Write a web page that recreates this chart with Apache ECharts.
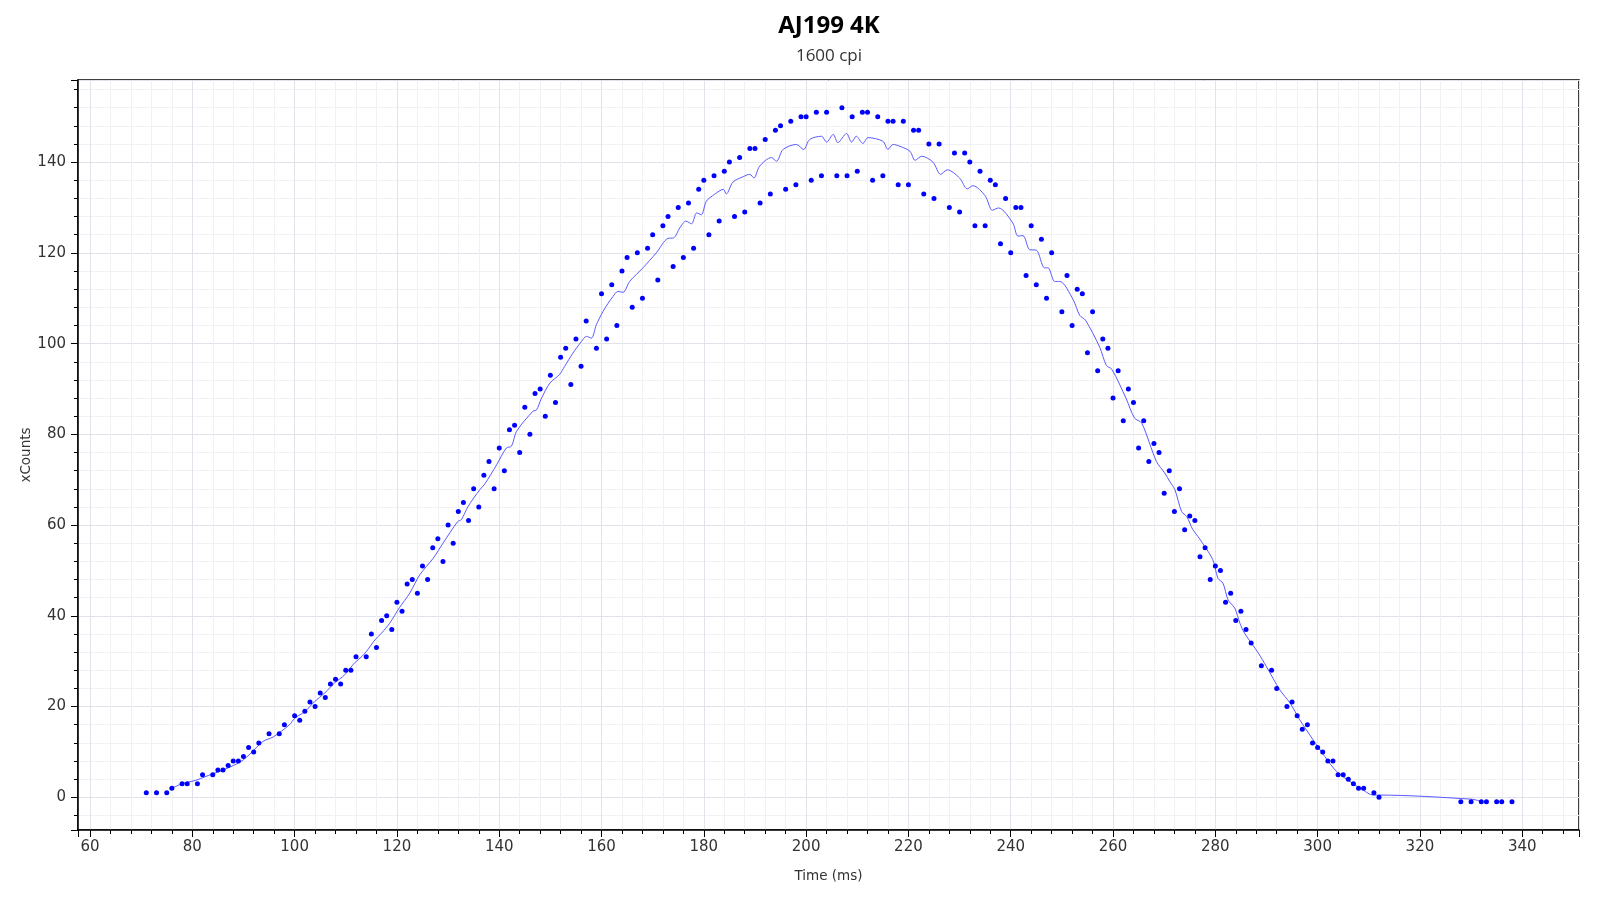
<!DOCTYPE html>
<html>
<head>
<meta charset="utf-8">
<script src="https://cdn.jsdelivr.net/npm/echarts@6/dist/echarts.min.js"></script>
<style>
html,body{margin:0;padding:0;background:#fff;}
#chart{width:1600px;height:900px;}
</style>
</head>
<body>
<div id="chart"></div>
<script>
// Scatter samples: time (ms) and xCounts
const pointTimes = [71,73,75,76,78,79,81,82,84,85,86,87,88,89,90,91,92,93,95,97,98,100,101,102,103,104,105,106,107,108,109,110,111,112,114,115,116,117,118,119,120,121,122,123,124,125,126,127,128,129,130,131,132,133,134,135,136,137,138,139,140,141,142,143,144,145,146,147,148,149,150,151,152,153,154,155,156,157,159,160,161,162,163,164,165,166,167,168,169,170,171,172,173,174,175,176,177,178,179,180,181,182,183,184,185,186,187,188,189,190,191,192,193,194,195,196,197,198,199,200,201,202,203,204,206,207,208,209,210,211,212,213,214,215,216,217,218,219,220,221,222,223,224,225,226,228,229,230,231,232,233,234,235,236,237,238,239,240,241,242,243,244,245,246,247,248,250,251,252,253,254,255,256,257,258,259,260,261,262,263,264,265,266,267,268,269,270,271,272,273,274,275,276,277,278,279,280,281,282,283,284,285,286,287,289,291,292,294,295,296,297,298,299,300,301,302,303,304,305,306,307,308,309,311,312,328,330,332,333,335,336,338];
const pointCounts = [1,1,1,2,3,3,3,5,5,6,6,7,8,8,9,11,10,12,14,14,16,18,17,19,21,20,23,22,25,26,25,28,28,31,31,36,33,39,40,37,43,41,47,48,45,51,48,55,57,52,60,56,63,65,61,68,64,71,74,68,77,72,81,82,76,86,80,89,90,84,93,87,97,99,91,101,95,105,99,111,101,113,104,116,119,108,120,110,121,124,114,126,128,117,130,119,131,121,134,136,124,137,127,138,140,128,141,129,143,143,131,145,133,147,148,134,149,135,150,150,136,151,137,151,137,152,137,150,138,151,151,136,150,137,149,149,135,149,135,147,147,133,144,132,144,130,142,129,142,140,126,138,126,136,135,122,132,120,130,130,115,126,113,123,110,120,107,115,104,112,111,98,107,94,101,99,88,94,83,90,87,77,83,74,78,76,67,72,63,68,59,62,61,53,55,48,51,50,43,45,39,41,37,34,29,28,24,20,21,18,15,16,12,11,10,8,8,5,5,4,3,2,2,1,0,-1,-1,-1,-1,-1,-1,-1];

// Smoothed trace
const lineTimes = [76,78,80.8,84,86,89.9,93.8,95.8,99,100,102,103.9,105.9,107.8,109.8,111.7,113.1,114,115.7,117,118.6,120.5,122.5,124.5,127.1,129,131.9,132.6,133.9,136.2,137.2,139.5,141.4,142.4,143.4,146.6,147.3,148.2,149.9,151.8,152.8,154.4,156.1,157.05,158,159,160.3,161.3,162.25,163.2,164.2,165.5,168.1,170.7,173,174.1,175.3,176.5,177.6,178.6,179.5,180.5,182.1,183.8,184.4,185.7,187.7,189,189.8,190.9,193.2,194.2,195.5,198.1,199.5,200.7,203,204,205.3,206.2,207.9,208.9,209.8,211.1,212.1,215,216,217,218.3,220.3,221.3,222.6,224.8,226.3,227.6,230,231.5,232.6,235,236.4,237.6,240.4,241.4,242.4,243.7,245,246.6,247.3,248.6,249.6,252.2,253.5,254.6,257.4,258.7,259.8,262.6,264.2,265.6,268.5,270.1,271.1,272.1,273.4,274.4,275.6,276.6,279.5,280.5,281.5,282.5,283.8,284.8,285.7,288.4,290,292.6,294.6,296.5,299.1,301.4,303.7,306.3,308.9,310.8,312.1,330,332];
const lineCounts = [2,3,3.8,5.2,6,8.2,12.3,13.3,16,17.4,18.9,21.1,23,25.2,27,29.6,31,32.1,34.7,36.2,38.4,41.8,45,49.1,52.7,56,60.8,61.2,64.1,67.8,69.1,73.3,77,77.4,80.7,85.1,85.4,87.8,91.3,93.2,95,97.9,100.5,101.6,101.2,104.2,107.1,108.9,110.4,111.5,111.3,113.7,116.7,120,123.2,123.3,125.5,127,126.4,128.8,128.4,131.4,132.9,134,133,135.6,136.8,137.3,136.5,139.1,141,140.2,142.8,143.9,142.8,145,145.7,144.4,146.1,144.3,146.3,144.4,145.7,144.1,145.4,144.6,142.8,143.9,143.5,142.4,140.4,141.3,140,137.3,138.3,136.5,134.1,134.8,132.6,129.4,129.9,126.6,123.7,123.8,120.7,120.6,116.7,116.7,113.7,113.7,109.7,106.2,105.2,99.2,95.2,94.3,87.8,83.6,82.5,74,71.5,69.6,67.8,63,61.9,59,57.5,52.4,48.3,47.2,43.5,41.7,38.4,36.2,31.8,28.8,23.7,20.8,17.1,12.7,9,5.7,3.5,1.6,0.5,0.5,-0.4,-0.9];

const titleText = 'AJ199 4K';
const subtitleText = '1600 cpi';
const xName = 'Time (ms)';
const yName = 'xCounts';

const scatterData = pointTimes.map((t, i) => [t, pointCounts[i]]);
const lineData = lineTimes.map((t, i) => [t, lineCounts[i]]);

const FONT = '"Open Sans", "Noto Sans", sans-serif';
const TICKFONT = '"DejaVu Sans", sans-serif';
const chart = echarts.init(document.getElementById('chart'), null, {renderer: 'canvas'});
const axisCommon = {
  type: 'value',
  nameMoveOverlap: false,
  axisLine: {show: true, onZero: false, lineStyle: {color: '#000', width: 1.5}},
  axisTick: {show: true, inside: false, length: 7, lineStyle: {color: '#000', width: 1}},
  minorTick: {show: true, splitNumber: 5, length: 4, lineStyle: {color: '#000', width: 1}},
  splitLine: {show: true, lineStyle: {color: '#e2e2ea', width: 1}},
  minorSplitLine: {show: true, lineStyle: {color: '#f1f1f5', width: 1}},
  axisLabel: {color: '#333', fontFamily: TICKFONT, fontSize: 15, showMinLabel: false, showMaxLabel: false},
  nameTextStyle: {color: '#333', fontFamily: TICKFONT, fontSize: 13.5}
};
chart.setOption({
  animation: false,
  backgroundColor: '#fff',
  title: [
    {text: titleText, left: 824, top: 9, textAlign: 'center',
     textStyle: {fontFamily: FONT, fontSize: 24, fontWeight: 'bold', color: '#000'}},
    {text: subtitleText, left: 824, top: 43, textAlign: 'center',
     textStyle: {fontFamily: FONT, fontSize: 17, fontWeight: 'normal', color: '#333'}}
  ],
  grid: {left: 78, top: 80, right: 21, bottom: 70, show: true, borderColor: '#000', borderWidth: 1.5, backgroundColor: 'transparent'},
  xAxis: Object.assign({}, axisCommon, {
    min: 57.65, max: 351.1, splitNumber: 15,
    name: xName, nameLocation: 'middle', nameGap: 39,
    axisLabel: Object.assign({}, axisCommon.axisLabel, {margin: 10})
  }),
  yAxis: Object.assign({}, axisCommon, {
    min: -7.2, max: 158.1, splitNumber: 8,
    name: yName, nameLocation: 'middle', nameGap: 45, nameRotate: 90,
    axisLabel: Object.assign({}, axisCommon.axisLabel, {margin: 12})
  }),
  series: [
    {type: 'line', data: lineData, showSymbol: false, smooth: 0.3, z: 2,
     lineStyle: {color: '#5a5aff', width: 1}},
    {type: 'scatter', data: scatterData, symbolSize: 5, z: 3,
     itemStyle: {color: '#0000ff', opacity: 1}}
  ]
});
</script>
</body>
</html>
